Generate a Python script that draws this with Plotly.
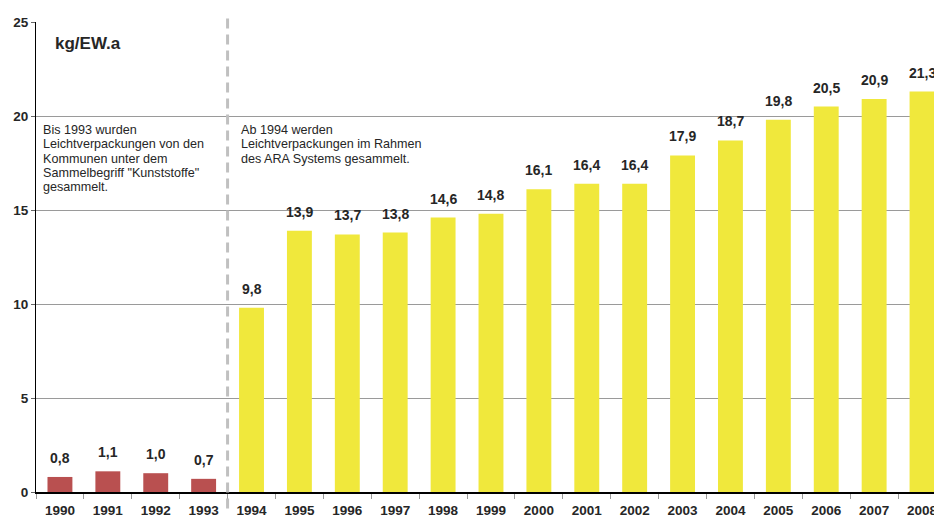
import plotly.graph_objects as go

years = [str(y) for y in range(1990, 2009)]
values = [0.8, 1.1, 1.0, 0.7, 9.8, 13.9, 13.7, 13.8, 14.6, 14.8,
          16.1, 16.4, 16.4, 17.9, 18.7, 19.8, 20.5, 20.9, 21.3]
labels = [f"{v:.1f}".replace(".", ",") for v in values]
y_ticks = [0, 5, 10, 15, 20, 25]

note_before = ["Bis 1993 wurden", "Leichtverpackungen von den", "Kommunen unter dem",
               "Sammelbegriff \"Kunststoffe\"", "gesammelt."]
note_after = ["Ab 1994 werden", "Leichtverpackungen im Rahmen", "des ARA Systems gesammelt."]

RED = "#b95050"
YELLOW = "#f0e83c"
colors = [RED if int(y) < 1994 else YELLOW for y in years]
FONT = "Arial, Liberation Sans, sans-serif"
DARK = "#262626"

fig = go.Figure(go.Bar(
    x=years, y=values, marker_color=colors, marker_line_width=0,
    width=0.52,
))

# Value labels above the bars (category axis positions are indices)
for i, (v, lab) in enumerate(zip(values, labels)):
    fig.add_annotation(x=i, y=v, text=f"<b>{lab}</b>", showarrow=False,
                       xanchor="center", yanchor="bottom", yshift=9,
                       font=dict(family=FONT, size=14, color=DARK))

fig.update_layout(
    width=934, height=516,
    margin=dict(l=36, r=0, t=22, b=24),
    plot_bgcolor="white", paper_bgcolor="white",
    showlegend=False, bargap=0.48,
    font=dict(family=FONT, color=DARK),
)
fig.update_xaxes(
    type="category", range=[-0.5, 18.25], automargin=False,
    tickvals=years, ticktext=[f"<b>{y}</b>" for y in years],
    showline=True, linecolor="black", linewidth=1.5,
    ticks="outside", tickson="boundaries", ticklen=5, tickcolor="#999999",
    tickfont=dict(family=FONT, size=13.5, color=DARK),
    ticklabelstandoff=5,
    showgrid=False,
)
fig.update_yaxes(
    range=[0, 25], tickvals=y_ticks, ticktext=[f"<b>{t}</b>" for t in y_ticks],
    automargin=False,
    showline=True, linecolor="black", linewidth=1,
    ticks="outside", ticklen=4, tickcolor="#666666",
    tickfont=dict(family=FONT, size=13.5, color=DARK),
    showgrid=True, gridcolor="#9a9a9a", gridwidth=1,
    zeroline=False,
)

# Dashed separator between the municipal and ARA collection periods
fig.add_shape(type="line", xref="x", yref="paper",
              x0=3.5, x1=3.5, y0=-0.035, y1=1.02,
              line=dict(color="#c0c0c0", width=3, dash="10px,6px"))

fig.add_annotation(xref="paper", yref="paper", x=0.019, y=0.955,
                   xanchor="left", yanchor="middle", showarrow=False,
                   text="<b>kg/EW.a</b>",
                   font=dict(family=FONT, size=17, color=DARK))

# Explanatory notes, one annotation per line for tight line spacing
LINE_STEP = 14.3
for x0, lines in ((0.006, note_before), (0.2265, note_after)):
    for k, line in enumerate(lines):
        fig.add_annotation(xref="paper", yref="y", x=x0, y=20,
                           xanchor="left", yanchor="middle", showarrow=False,
                           yshift=-14 - k * LINE_STEP, text=line,
                           font=dict(family=FONT, size=12.6, color=DARK))

fig.write_html("out.html")
